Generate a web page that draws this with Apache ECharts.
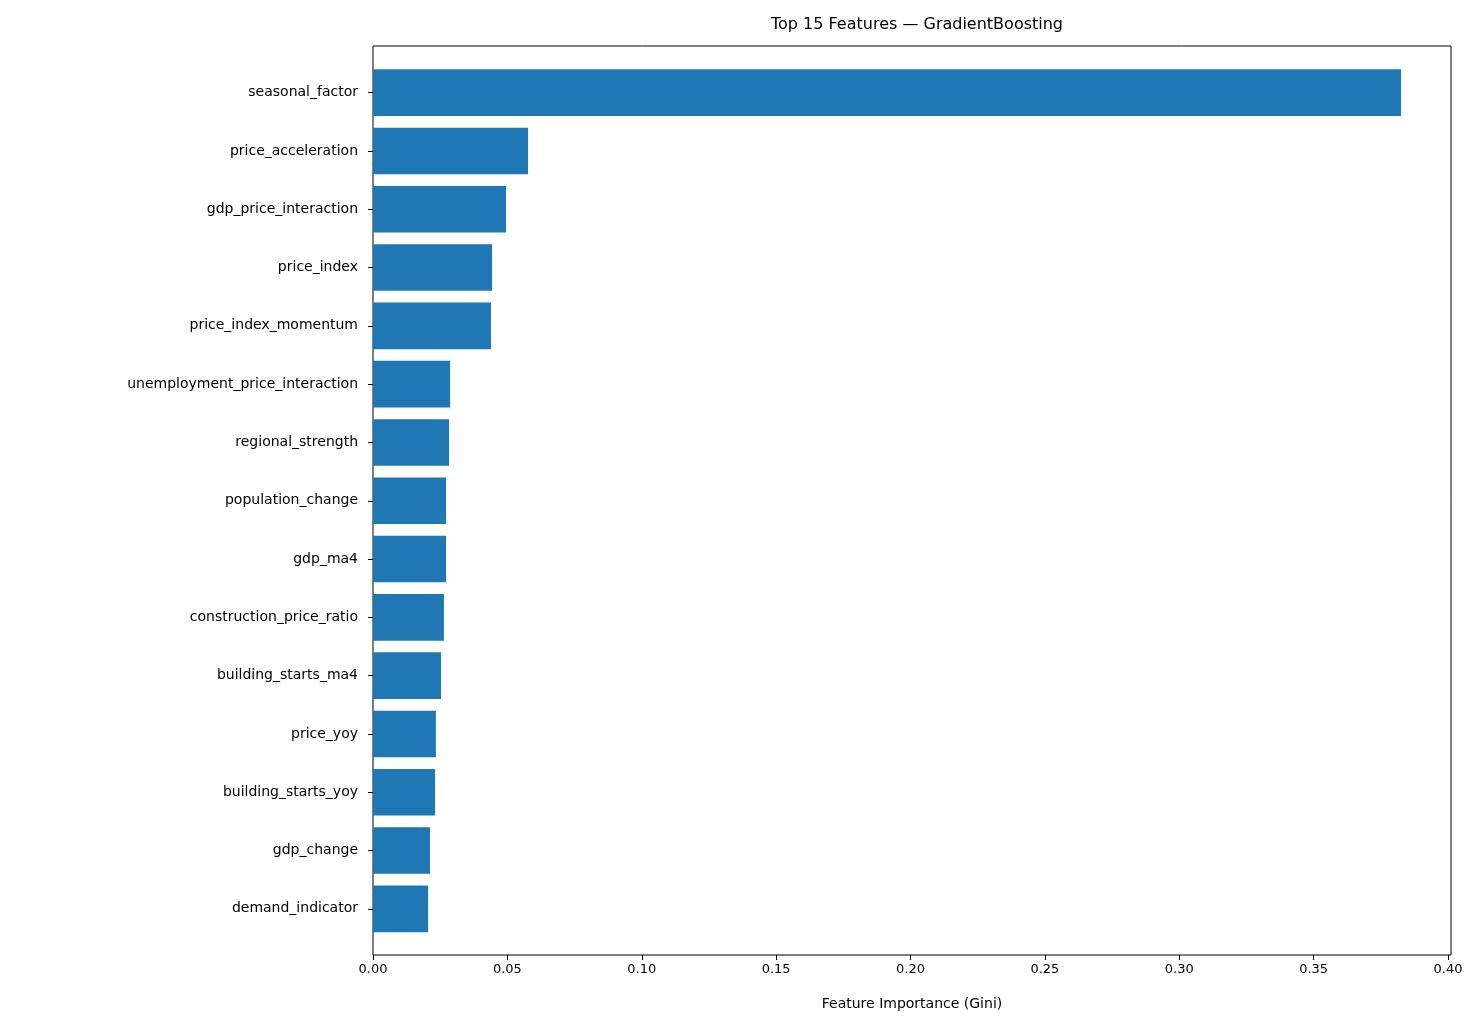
<!DOCTYPE html>
<html><head><meta charset="utf-8">
<script src="https://cdn.jsdelivr.net/npm/echarts@6/dist/echarts.min.js"></script>
<style>html,body{margin:0;padding:0;background:#fff}#c{width:1484px;height:1034px}</style>
</head><body><div id="c"></div>
<script>
const features = ["seasonal_factor","price_acceleration","gdp_price_interaction","price_index","price_index_momentum","unemployment_price_interaction","regional_strength","population_change","gdp_ma4","construction_price_ratio","building_starts_ma4","price_yoy","building_starts_yoy","gdp_change","demand_indicator"];
const importance = [0.3825,0.0577,0.0495,0.0443,0.0439,0.0287,0.0283,0.0272,0.0272,0.0264,0.0253,0.0234,0.0231,0.0212,0.0205];
const xMax = 0.4011;
const font = 'DejaVu Sans';
const chart = echarts.init(document.getElementById('c'));
chart.setOption({
  animation:false,
  title:{text:'Top 15 Features — GradientBoosting',left:912,top:12,textAlign:'center',textStyle:{fontFamily:font,fontSize:16,fontWeight:'normal',color:'#000'}},
  grid:[
    {left:373,right:33,top:46,height:909,show:true,borderColor:'#000',borderWidth:1,backgroundColor:'transparent'},
    {left:373,right:33,top:63.5,height:874.5}
  ],
  xAxis:[
    {gridIndex:0,type:'value',min:0,max:xMax,interval:0.05,splitLine:{show:false},
     axisLine:{show:false},axisTick:{show:true,length:5,lineStyle:{color:'#000'}},
     axisLabel:{showMaxLabel:false,fontFamily:font,fontSize:13,color:'#000',margin:8,formatter:v=>v.toFixed(2)},
     name:'Feature Importance (Gini)',nameLocation:'middle',nameGap:42,nameTextStyle:{fontFamily:font,fontSize:14,color:'#000'}},
    {gridIndex:1,type:'value',min:0,max:xMax,show:false}
  ],
  yAxis:[
    {gridIndex:0,type:'value',show:false},
    {gridIndex:1,type:'category',data:features,inverse:true,
     axisLine:{show:false},axisTick:{show:true,alignWithLabel:true,length:5,lineStyle:{color:'#000'}},
     axisLabel:{fontFamily:font,fontSize:14,color:'#000',margin:15}}
  ],
  series:[{type:'bar',xAxisIndex:1,yAxisIndex:1,data:importance,barCategoryGap:'20%',itemStyle:{color:'#1f77b4'}}]
});
</script></body></html>
